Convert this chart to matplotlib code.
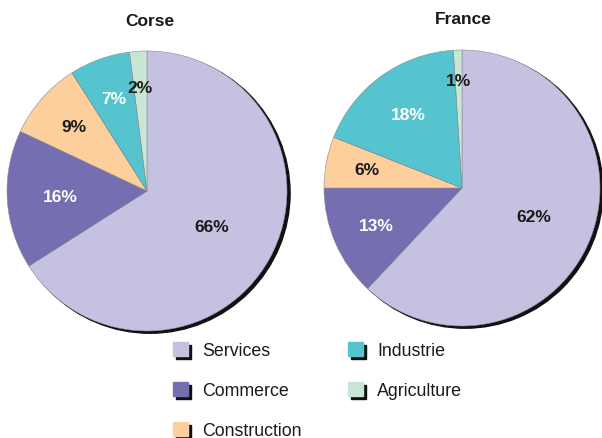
import numpy as np
import matplotlib
matplotlib.use("Agg")
import matplotlib.pyplot as plt
from matplotlib.patches import Circle, Rectangle
from matplotlib import font_manager

# ---- data ----
categories = ['Services', 'Commerce', 'Construction', 'Industrie', 'Agriculture']
colors = ['#c5c2e1', '#756eb0', '#fdcf9c', '#55c4ce', '#c9e6d5']
corse = [66, 16, 9, 7, 2]
france = [62, 13, 6, 18, 1]
titles = ['Corse', 'France']

# label colour / distance per slice (style)
label_colors = ['#1a1a1a', 'white', '#1a1a1a', 'white', '#1a1a1a']
corse_dist = [0.53, 0.62, 0.70, 0.70, 0.74]
france_dist = [0.56, 0.68, 0.70, 0.66, 0.78]

names = {f.name for f in font_manager.fontManager.ttflist}
FONT = ['Liberation Sans Narrow', 'Liberation Sans', 'DejaVu Sans']
FONT = [f for f in FONT if f in names] or ['DejaVu Sans']
plt.rcParams['font.family'] = FONT

W, H = 602, 439
fig = plt.figure(figsize=(W / 100, H / 100), dpi=100)


def pie_axes(cx, cy, r):
    return fig.add_axes([(cx - r) / W, (H - cy - r) / H, 2 * r / W, 2 * r / H])


def draw_pie(ax, values, dists):
    ax.add_patch(Circle((0.022, -0.016), 1.0, color='#111111', zorder=0))
    wedges, _ = ax.pie(values, colors=colors, startangle=90, counterclock=False,
                       radius=1.0, wedgeprops=dict(edgecolor='#8a8a9a', linewidth=0.4))
    for w, v, d, c in zip(wedges, values, dists, label_colors):
        mid = np.deg2rad((w.theta1 + w.theta2) / 2)
        ax.text(d * np.cos(mid), d * np.sin(mid), f'{v}%', ha='center', va='center',
                fontsize=12.5, fontweight='bold', color=c)
    ax.set_xlim(-1.05, 1.05)
    ax.set_ylim(-1.05, 1.05)
    ax.axis('off')


r = 140 * 1.05
ax1 = pie_axes(147, 192, r)
draw_pie(ax1, corse, corse_dist)
ax2 = pie_axes(462, 189, r * 138 / 140)
draw_pie(ax2, france, france_dist)

# overlay in pixel coords for titles and legend
ov = fig.add_axes([0, 0, 1, 1], zorder=5)
ov.set_xlim(0, W)
ov.set_ylim(H, 0)
ov.axis('off')
ov.text(150, 22, titles[0], ha='center', va='center', fontsize=12.5, fontweight='bold', color='#1a1a1a')
ov.text(463, 20, titles[1], ha='center', va='center', fontsize=12.5, fontweight='bold', color='#1a1a1a')

col_x = [173, 348]
row_y = [343, 383, 423]
for i, (cat, col) in enumerate(zip(categories, colors)):
    x = col_x[i // 3]
    y = row_y[i % 3]
    ov.add_patch(Rectangle((x + 3, y + 3), 15, 14, color='#111111'))
    ov.add_patch(Rectangle((x, y), 15, 14, color=col))
    ov.text(x + 29, y + 9, cat, ha='left', va='center', fontsize=12.8, color='#1a1a1a')

fig.savefig('out.png', dpi=100)
